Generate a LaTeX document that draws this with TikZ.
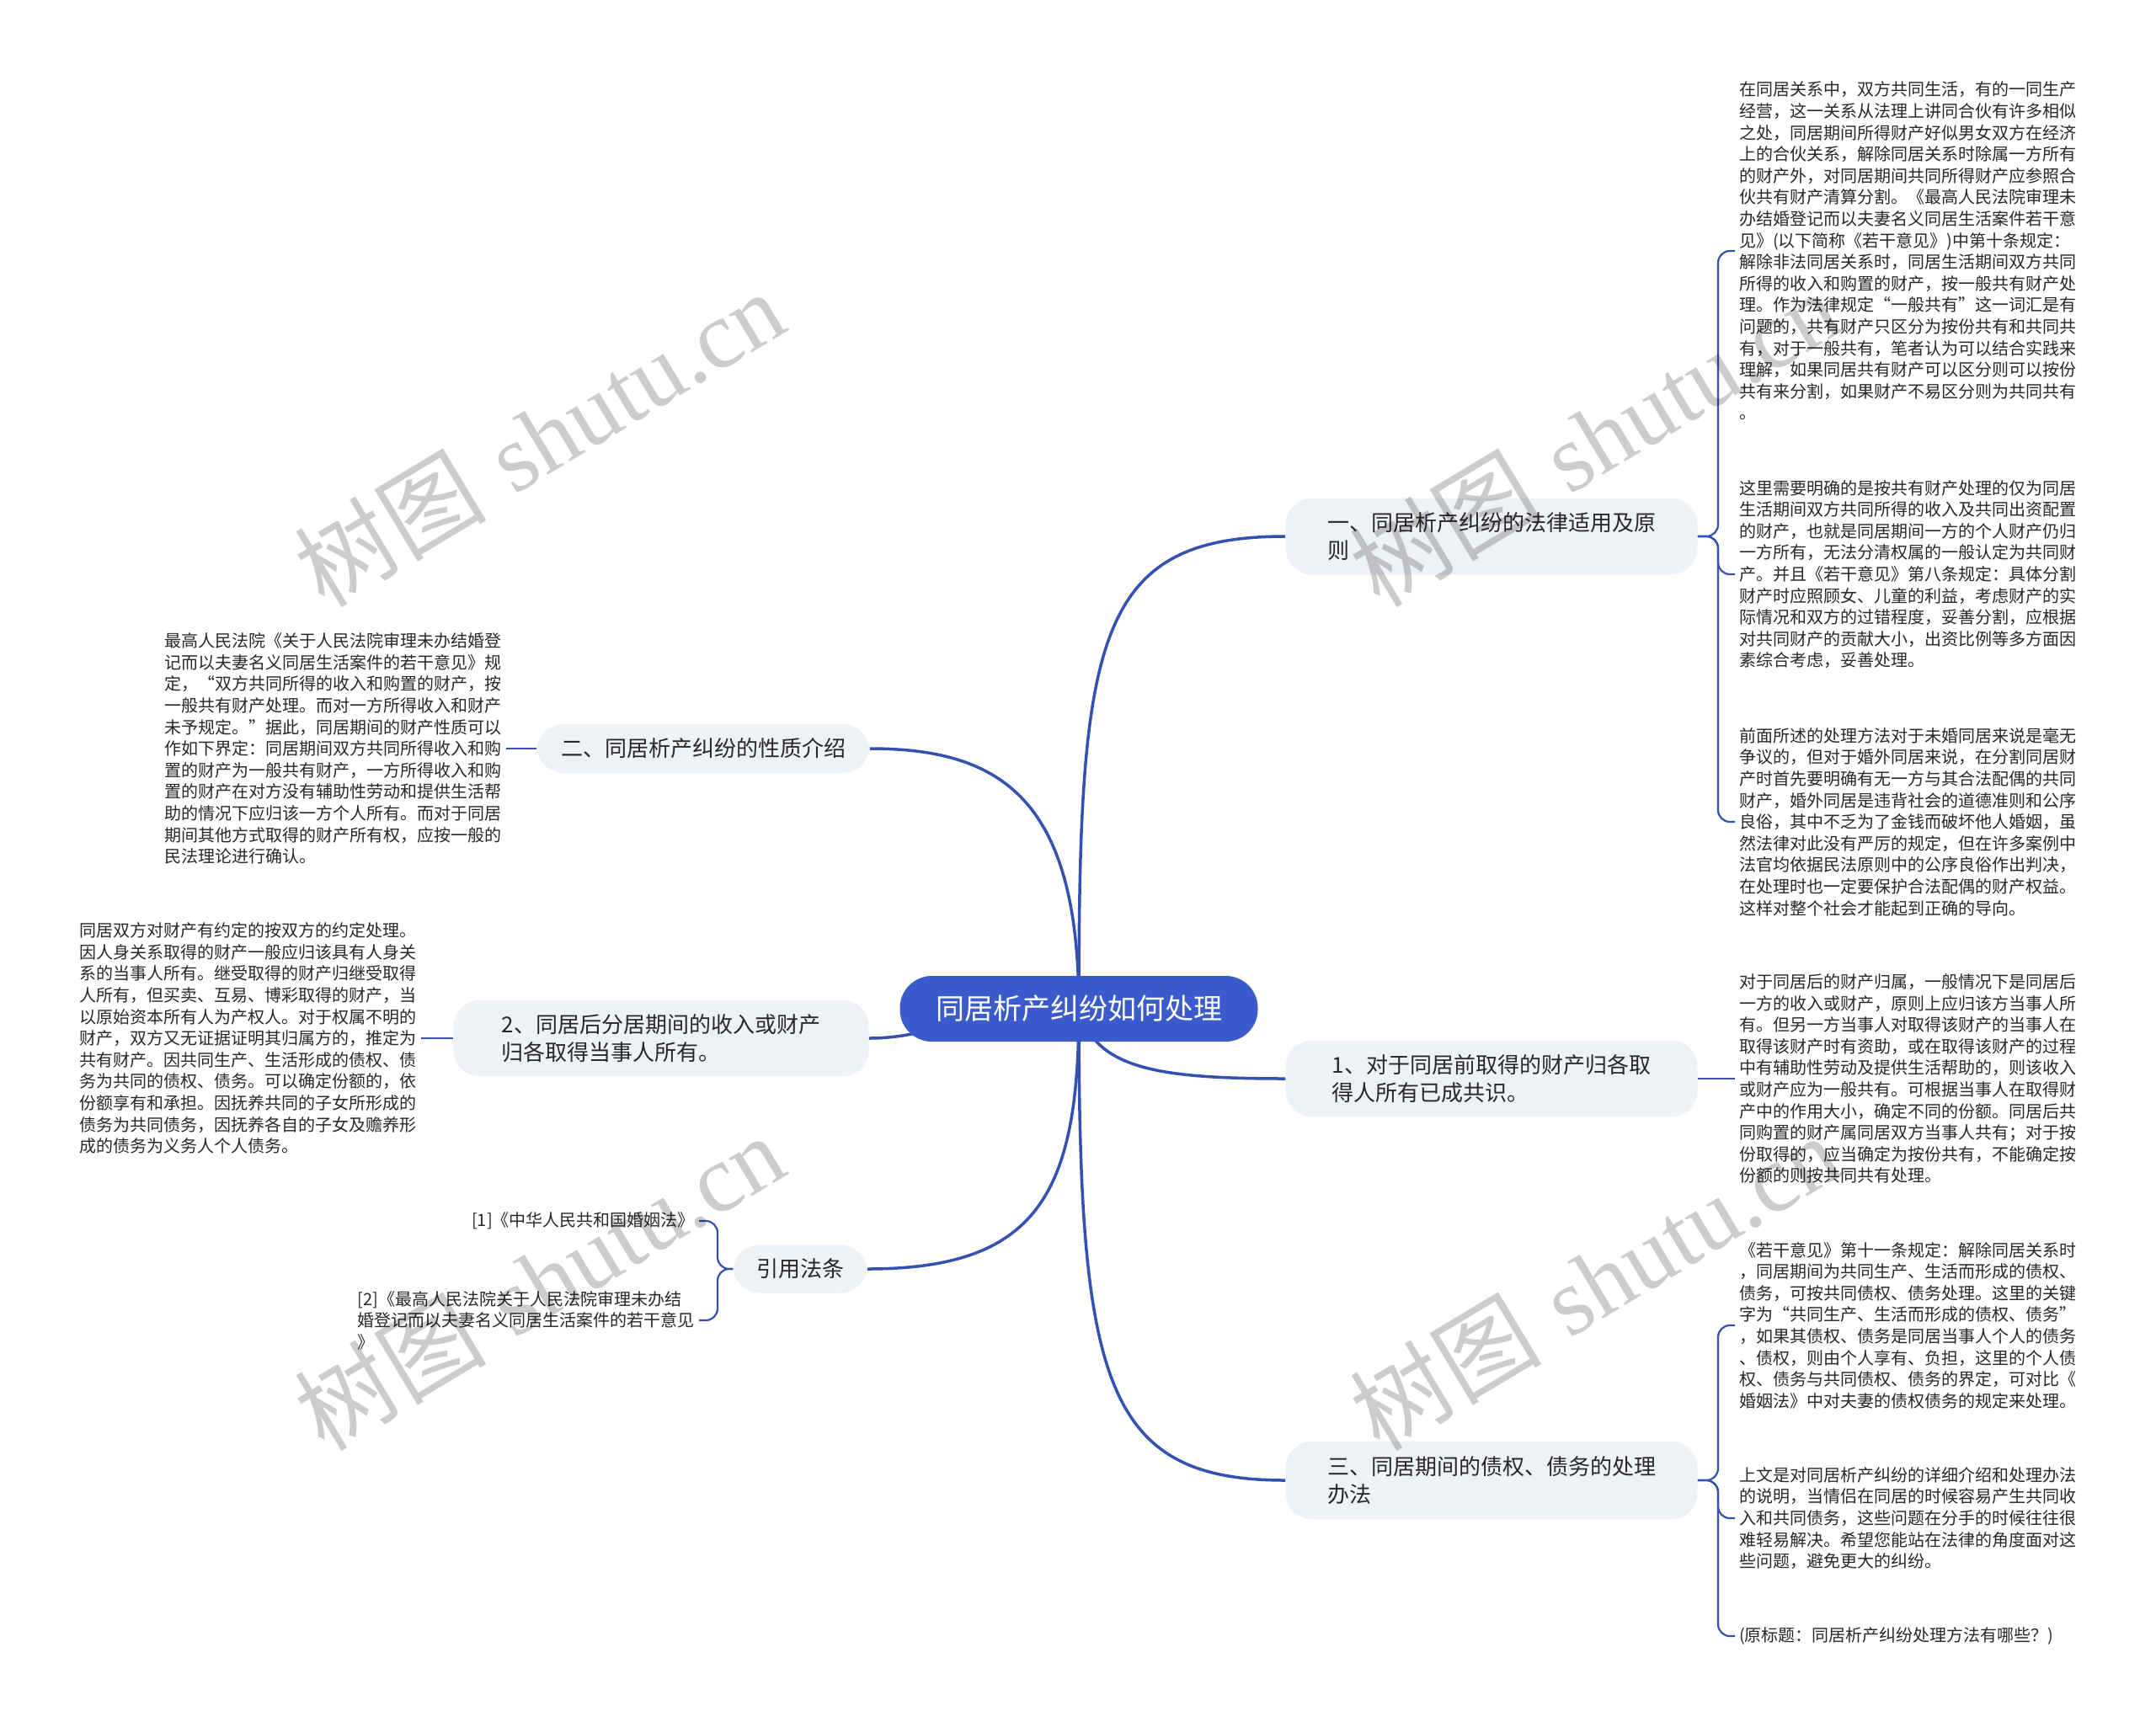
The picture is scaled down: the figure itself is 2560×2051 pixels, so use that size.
\documentclass[tikz,border=0pt]{standalone}
\usepackage{fontspec}
\newfontfamily\cjk{Noto Sans CJK SC}
\newfontfamily\wmserif{Liberation Serif}
\definecolor{linec}{RGB}{52,80,178}
\definecolor{centerc}{RGB}{59,91,204}
\definecolor{branchc}{RGB}{238,241,245}
\definecolor{textc}{RGB}{40,40,40}
\pgfdeclarelayer{background}
\pgfsetlayers{background,main}
\begin{document}
\begin{tikzpicture}[x=1pt,y=-1pt,
  conn/.style={draw=linec, line width=3.5pt},
  leafconn/.style={draw=linec, line width=2.2pt, rounded corners=14pt},
  centernode/.style={fill=centerc, text=white, rounded corners=38pt, minimum width=425pt, minimum height=78pt, font=\cjk\fontsize{34}{40}\selectfont, inner sep=0pt},
  branch/.style={fill=branchc, text=textc, rounded corners=32pt, align=left, font=\cjk\fontsize{26}{33}\selectfont, inner sep=0pt},
  leaf/.style={text=textc, align=left, font=\cjk\fontsize{20}{25.6}\selectfont, inner xsep=5pt, inner ysep=0pt},
  wm/.style={text=black, opacity=0.2, rotate=31, font=\fontsize{114}{118}\selectfont}
]
\useasboundingbox (0,0) rectangle (2560,2051);
\begin{pgfonlayer}{background}
\fill[white] (0,0) rectangle (2560,2051);
\end{pgfonlayer}

% nodes
\node[centernode] (c) at (1281,1198) {同居析产纠纷如何处理};
\node[branch, minimum width=489pt, minimum height=91pt] (b1) at (1771,637) {一、同居析产纠纷的法律适用及原\\则};
\node[branch, minimum width=395pt, minimum height=58pt] (b2) at (835,889) {二、同居析产纠纷的性质介绍};
\node[branch, minimum width=489pt, minimum height=91pt] (b3) at (1771,1281) {1、对于同居前取得的财产归各取\\得人所有已成共识。};
\node[branch, minimum width=489pt, minimum height=93pt] (b4) at (1771,1758) {三、同居期间的债权、债务的处理\\办法};
\node[branch, minimum width=493pt, minimum height=91pt] (b5) at (785,1233) {2、同居后分居期间的收入或财产\\归各取得当事人所有。};
\node[branch, minimum width=159pt, minimum height=57pt] (b6) at (950,1507) {引用法条};

\node[leaf, anchor=west] (r1) at (2060,298) {在同居关系中，双方共同生活，有的一同生产\\%
经营，这一关系从法理上讲同合伙有许多相似\\%
之处，同居期间所得财产好似男女双方在经济\\%
上的合伙关系，解除同居关系时除属一方所有\\%
的财产外，对同居期间共同所得财产应参照合\\%
伙共有财产清算分割。《最高人民法院审理未\\%
办结婚登记而以夫妻名义同居生活案件若干意\\%
见》(以下简称《若干意见》)中第十条规定：\\%
解除非法同居关系时，同居生活期间双方共同\\%
所得的收入和购置的财产，按一般共有财产处\\%
理。作为法律规定“一般共有”这一词汇是有\\%
问题的，共有财产只区分为按份共有和共同共\\%
有，对于一般共有，笔者认为可以结合实践来\\%
理解，如果同居共有财产可以区分则可以按份\\%
共有来分割，如果财产不易区分则为共同共有\\%
。};
\node[leaf, anchor=west] (r2) at (2060,682) {这里需要明确的是按共有财产处理的仅为同居\\%
生活期间双方共同所得的收入及共同出资配置\\%
的财产，也就是同居期间一方的个人财产仍归\\%
一方所有，无法分清权属的一般认定为共同财\\%
产。并且《若干意见》第八条规定：具体分割\\%
财产时应照顾女、儿童的利益，考虑财产的实\\%
际情况和双方的过错程度，妥善分割，应根据\\%
对共同财产的贡献大小，出资比例等多方面因\\%
素综合考虑，妥善处理。};
\node[leaf, anchor=west] (r3) at (2060,976) {前面所述的处理方法对于未婚同居来说是毫无\\%
争议的，但对于婚外同居来说，在分割同居财\\%
产时首先要明确有无一方与其合法配偶的共同\\%
财产，婚外同居是违背社会的道德准则和公序\\%
良俗，其中不乏为了金钱而破坏他人婚姻，虽\\%
然法律对此没有严厉的规定，但在许多案例中\\%
法官均依据民法原则中的公序良俗作出判决，\\%
在处理时也一定要保护合法配偶的财产权益。\\%
这样对整个社会才能起到正确的导向。};
\node[leaf, anchor=west] (r4) at (2060,1281) {对于同居后的财产归属，一般情况下是同居后\\%
一方的收入或财产，原则上应归该方当事人所\\%
有。但另一方当事人对取得该财产的当事人在\\%
取得该财产时有资助，或在取得该财产的过程\\%
中有辅助性劳动及提供生活帮助的，则该收入\\%
或财产应为一般共有。可根据当事人在取得财\\%
产中的作用大小，确定不同的份额。同居后共\\%
同购置的财产属同居双方当事人共有；对于按\\%
份取得的，应当确定为按份共有，不能确定按\\%
份额的则按共同共有处理。};
\node[leaf, anchor=west] (r5) at (2060,1574) {《若干意见》第十一条规定：解除同居关系时\\%
，同居期间为共同生产、生活而形成的债权、\\%
债务，可按共同债权、债务处理。这里的关键\\%
字为“共同生产、生活而形成的债权、债务”\\%
，如果其债权、债务是同居当事人个人的债务\\%
、债权，则由个人享有、负担，这里的个人债\\%
权、债务与共同债权、债务的界定，可对比《\\%
婚姻法》中对夫妻的债权债务的规定来处理。};
\node[leaf, anchor=west] (r6) at (2060,1803) {上文是对同居析产纠纷的详细介绍和处理办法\\%
的说明，当情侣在同居的时候容易产生共同收\\%
入和共同债务，这些问题在分手的时候往往很\\%
难轻易解决。希望您能站在法律的角度面对这\\%
些问题，避免更大的纠纷。};
\node[leaf, anchor=west] (r7) at (2060,1943) {(原标题：同居析产纠纷处理方法有哪些？)};

\node[leaf, anchor=east] (l1) at (601,889) {最高人民法院《关于人民法院审理未办结婚登\\%
记而以夫妻名义同居生活案件的若干意见》规\\%
定，“双方共同所得的收入和购置的财产，按\\%
一般共有财产处理。而对一方所得收入和财产\\%
未予规定。”据此，同居期间的财产性质可以\\%
作如下界定：同居期间双方共同所得收入和购\\%
置的财产为一般共有财产，一方所得收入和购\\%
置的财产在对方没有辅助性劳动和提供生活帮\\%
助的情况下应归该一方个人所有。而对于同居\\%
期间其他方式取得的财产所有权，应按一般的\\%
民法理论进行确认。};
\node[leaf, anchor=east] (l2) at (500,1233) {同居双方对财产有约定的按双方的约定处理。\\%
因人身关系取得的财产一般应归该具有人身关\\%
系的当事人所有。继受取得的财产归继受取得\\%
人所有，但买卖、互易、博彩取得的财产，当\\%
以原始资本所有人为产权人。对于权属不明的\\%
财产，双方又无证据证明其归属方的，推定为\\%
共有财产。因共同生产、生活形成的债权、债\\%
务为共同的债权、债务。可以确定份额的，依\\%
份额享有和承担。因抚养共同的子女所形成的\\%
债务为共同债务，因抚养各自的子女及赡养形\\%
成的债务为义务人个人债务。};
\node[leaf, anchor=east] (k1) at (830,1450) {[1]《中华人民共和国婚姻法》};
\node[leaf, anchor=east] (k2) at (830,1568) {[2]《最高人民法院关于人民法院审理未办结\\%
婚登记而以夫妻名义同居生活案件的若干意见\\%
》};

% connectors (behind nodes)
\begin{pgfonlayer}{background}
\draw[conn] (c.center) .. controls (1281,760) and (1300,637) .. (b1.west);
\draw[conn] (c.center) .. controls (1281,950) and (1190,889) .. (b2.east);
\draw[conn] (c.center) .. controls (1300,1268) and (1370,1281) .. (b3.west);
\draw[conn] (c.center) .. controls (1281,1640) and (1310,1758) .. (b4.west);
\draw[conn] (c.center) .. controls (1150,1198) and (1110,1233) .. (b5.east);
\draw[conn] (c.center) .. controls (1281,1420) and (1230,1507) .. (b6.east);

\draw[leafconn] (b1.east) -- (2040,637) -- (2040,298) -- (r1.west);
\draw[leafconn] (b1.east) -- (2040,637) -- (2040,682) -- (r2.west);
\draw[leafconn] (b1.east) -- (2040,637) -- (2040,976) -- (r3.west);
\draw[leafconn] (b3.east) -- (r4.west);
\draw[leafconn] (b4.east) -- (2040,1758) -- (2040,1574) -- (r5.west);
\draw[leafconn] (b4.east) -- (2040,1758) -- (2040,1803) -- (r6.west);
\draw[leafconn] (b4.east) -- (2040,1758) -- (2040,1943) -- (r7.west);
\draw[leafconn] (b2.west) -- (l1.east);
\draw[leafconn] (b5.west) -- (l2.east);
\draw[leafconn] (b6.west) -- (852,1507) -- (852,1450) -- (k1.east);
\draw[leafconn] (b6.west) -- (852,1507) -- (852,1568) -- (k2.east);
\end{pgfonlayer}

% watermarks
\node[wm] (w1) at (640,520) {{\cjk 树图} {\wmserif shutu.cn}};
\node[wm] (w2) at (1893,520) {{\cjk 树图} {\wmserif shutu.cn}};
\node[wm] (w3) at (640,1522) {{\cjk 树图} {\wmserif shutu.cn}};
\node[wm] (w4) at (1893,1522) {{\cjk 树图} {\wmserif shutu.cn}};
\end{tikzpicture}
\end{document}
